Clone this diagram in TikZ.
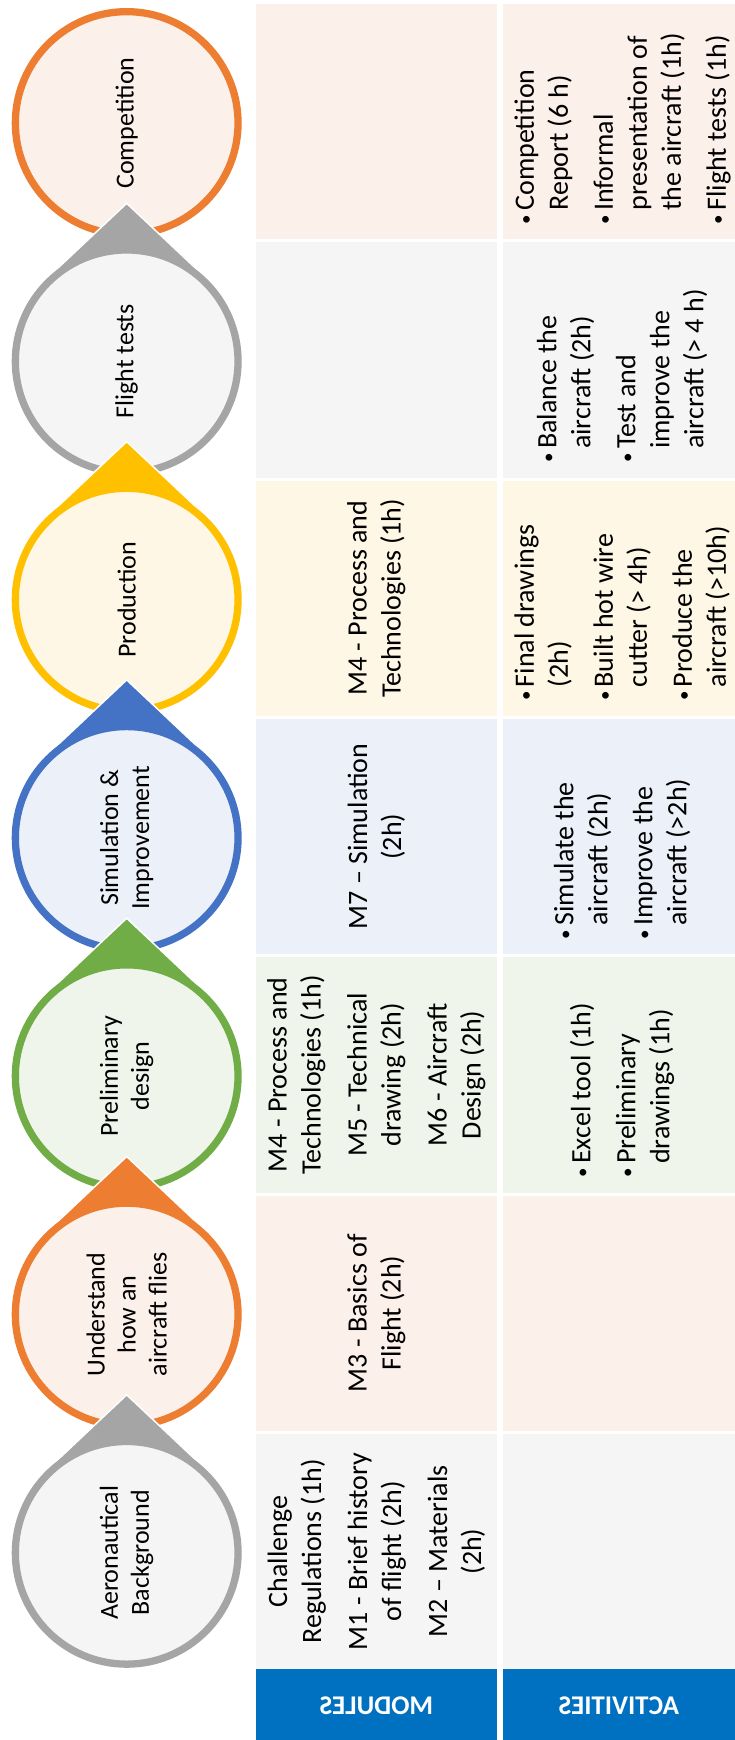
\documentclass[tikz,border=0pt]{standalone}
\usepackage{fontspec}
\setmainfont{Carlito}
\usetikzlibrary{calc}
\definecolor{StageOrange}{HTML}{ED7D31}
\definecolor{StageOrangeFill}{HTML}{FBF0EA}
\definecolor{StageGray}{HTML}{A5A5A5}
\definecolor{StageGrayFill}{HTML}{F5F5F5}
\definecolor{StageYellow}{HTML}{FFC000}
\definecolor{StageYellowFill}{HTML}{FEF7E6}
\definecolor{StageBlue}{HTML}{4472C4}
\definecolor{StageBlueFill}{HTML}{ECF0F9}
\definecolor{StageGreen}{HTML}{70AD47}
\definecolor{StageGreenFill}{HTML}{EFF5EB}
\definecolor{HeaderBlue}{HTML}{0070C0}
\newcommand{\actdot}{\raisebox{2pt}{\fontsize{19}{34}\selectfont\textbullet}}

\begin{document}
\begin{tikzpicture}[x=1pt,y=1pt,
  stagetext/.style={rotate=90,align=center,inner sep=0pt,font=\fontsize{26}{31}\selectfont},
  modtext/.style={rotate=90,align=center,inner sep=0pt,font=\fontsize{28}{34}\selectfont},
  acttext/.style={rotate=90,anchor=west,inner sep=0pt,font=\fontsize{28}{34}\selectfont},
  headtext/.style={xscale=-1,text=white,font=\fontsize{27}{32}\selectfont\bfseries}]
  \path[use as bounding box,fill=white] (0,0) rectangle (735,-1740);
  % cells and drops, from the last stage at the top down to the first
  \foreach \i/\col in {0/StageOrange,1/StageGray,2/StageYellow,3/StageBlue,
                       4/StageGreen,5/StageOrange,6/StageGray}{
    \pgfmathsetmacro\rowtop{-4-\i*238.3}
    \pgfmathsetmacro\rowbot{\rowtop-235.3}
    \fill[\col Fill] (256,\rowtop) rectangle (496.7,\rowbot);
    \fill[\col Fill] (502.7,\rowtop) rectangle (735,\rowbot);
    \coordinate (c\i) at (126.7,\rowtop-119);
    \coordinate (m\i) at (376.4,\rowtop-117.65);
    \coordinate (a\i) at (623,\rowbot+15);
    \ifnum\i>0
      \draw[white,line width=1.5,fill=\col] ($(c\i)+(0,158)$) -- ($(c\i)+(46.7:115)$)
        arc[start angle=46.7,end angle=-226.7,radius=115] -- cycle;
    \fi
    \draw[line width=7.3,draw=\col,fill=\col Fill] (c\i) circle[radius=111.35];
  }

  % stages
  \node[stagetext] (compet) at (c0) {Competition};
  \node[stagetext] (flight) at (c1) {Flight tests};
  \node[stagetext] (prod) at (c2) {Production};
  \node[stagetext] (simul) at (c3) {Simulation \&\\Improvement};
  \node[stagetext] (prelim) at (c4) {Preliminary\\design};
  \node[stagetext] (underst) at (c5) {Understand\\how an\\aircraft flies};
  \node[stagetext] (aero) at (c6) {Aeronautical\\Background};

  % modules
  \node[modtext] (mod2) at (m2) {M4 - Process and\\Technologies (1h)};
  \node[modtext] (mod3) at (m3) {M7 -- Simulation\\(2h)};
  \node[modtext] (mod4) at (m4) {M4 - Process and\\Technologies (1h)\\[12pt]
    M5 - Technical\\drawing (2h)\\[12pt]M6 - Aircraft\\Design (2h)};
  \node[modtext] (mod5) at (m5) {M3 - Basics of\\Flight (2h)};
  \node[modtext] (mod6) at (m6) {Challenge\\Regulations (1h)\\[12pt]
    M1 - Brief history\\of flight (2h)\\[12pt]M2 -- Materials\\(2h)};

  % activities
  \node[acttext] (act0) at (a0) {\begin{tabular}{@{}l@{\hspace{4pt}}l@{}}
    \actdot & Competition\\ & Report (6 h)\\[11pt]
    \actdot & Informal\\ & presentation of\\ & the aircraft (1h)\\[11pt]
    \actdot & Flight tests (1h)\end{tabular}};
  \node[acttext] (act1) at (a1) {\begin{tabular}{@{}l@{\hspace{4pt}}l@{}}
    \actdot & Balance the\\ & aircraft (2h)\\[11pt]
    \actdot & Test and\\ & improve the\\ & aircraft (> 4 h)\end{tabular}};
  \node[acttext] (act2) at (a2) {\begin{tabular}{@{}l@{\hspace{4pt}}l@{}}
    \actdot & Final drawings\\ & (2h)\\[11pt]
    \actdot & Built hot wire\\ & cutter (> 4h)\\[11pt]
    \actdot & Produce the\\ & aircraft (>10h)\end{tabular}};
  \node[acttext] (act3) at (a3) {\begin{tabular}{@{}l@{\hspace{4pt}}l@{}}
    \actdot & Simulate the\\ & aircraft (2h)\\[11pt]
    \actdot & Improve the\\ & aircraft (>2h)\end{tabular}};
  \node[acttext] (act4) at (a4) {\begin{tabular}{@{}l@{\hspace{4pt}}l@{}}
    \actdot & Excel tool (1h)\\[11pt]
    \actdot & Preliminary\\ & drawings (1h)\end{tabular}};

  % headers
  \fill[HeaderBlue] (256,-1669) rectangle (496.7,-1740);
  \fill[HeaderBlue] (502.7,-1669) rectangle (735,-1740);
  \node[headtext] (modhead) at (376.4,-1706) {MODULES};
  \node[headtext] (acthead) at (618.9,-1706) {ACTIVITIES};
\end{tikzpicture}
\end{document}
